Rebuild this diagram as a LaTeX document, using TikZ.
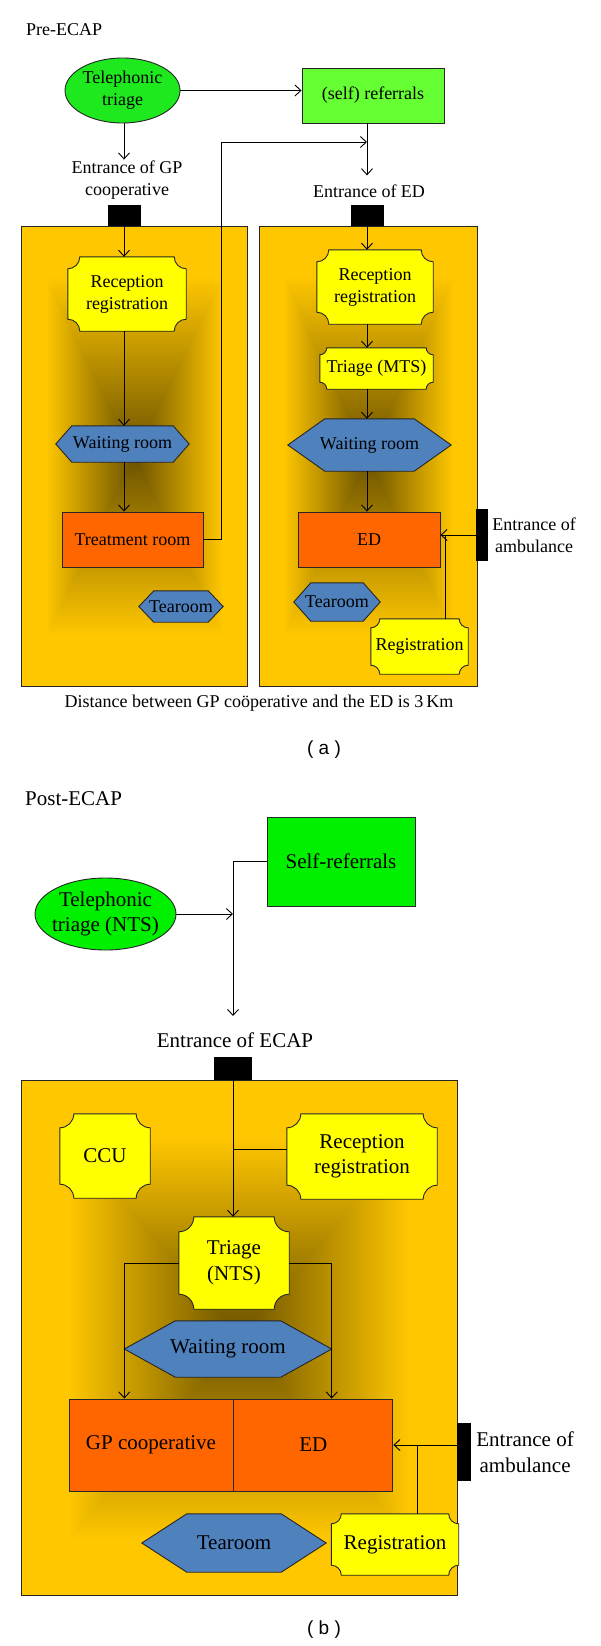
\documentclass[tikz,border=0pt]{standalone}
\usepackage{fontspec}
\setmainfont{Liberation Serif}
\newfontfamily\panelfont{Liberation Sans}
\usepackage{tikz}
\usetikzlibrary{shapes,arrows.meta,positioning,backgrounds,calc}
\definecolor{call-green}{RGB}{30,232,30}
\definecolor{lime-green}{RGB}{102,255,51}
\definecolor{self-green}{RGB}{0,240,0}
\definecolor{desk-yellow}{RGB}{255,255,0}
\definecolor{hall-blue}{RGB}{79,129,189}
\definecolor{care-orange}{RGB}{255,102,0}

\pgfdeclarelayer{frames}
\pgfsetlayers{background,frames,main}

% rectangular glow, dark in the middle of a room
\pgfdeclarefunctionalshading{roomglow}{\pgfpoint{0bp}{0bp}}{\pgfpoint{100bp}{100bp}}{}{
  50 sub abs 25 div exch 50 sub abs 25 div
  2 copy lt {exch} if pop
  0.78 div dup 1 gt {pop 1} if
  dup 0.58 mul 0.42 add exch
  dup 0.46 mul 0.32 add exch
  pop 0
}

% plaque outline behind a node: node, corner radius
\newcommand{\plaque}[2]{%
  \draw[plaqueline] ($(#1.north west)+(#2,0)$) -- ($(#1.north east)+(-#2,0)$)
    arc[start angle=180, end angle=270, radius=#2pt] -- ($(#1.south east)+(0,#2)$)
    arc[start angle=90, end angle=180, radius=#2pt] -- ($(#1.south west)+(#2,0)$)
    arc[start angle=0, end angle=90, radius=#2pt] -- ($(#1.north west)+(0,-#2)$)
    arc[start angle=270, end angle=360, radius=#2pt] -- cycle;}

% hexagon outline behind a node: node, tip inset
\newcommand{\hexa}[2]{%
  \draw[hexline] (#1.west) -- ($(#1.north west)+(#2,0)$) -- ($(#1.north east)+(-#2,0)$)
    -- (#1.east) -- ($(#1.south east)+(-#2,0)$) -- ($(#1.south west)+(#2,0)$) -- cycle;}

\begin{document}
\begin{tikzpicture}[
    x=1pt, y=1pt,
    font=\fontsize{18}{22}\selectfont,
    room/.style={draw=black!85, line width=0.9pt, shade, shading=roomglow, inner sep=0pt},
    door/.style={fill=black, inner sep=0pt},
    call/.style={ellipse, draw=black!85, line width=0.9pt, fill=call-green, align=center, inner sep=0pt},
    referral/.style={rectangle, draw=black!85, line width=0.9pt, align=center, inner sep=0pt},
    desk/.style={inner sep=0pt, align=center},
    hall/.style={inner sep=0pt},
    care/.style={rectangle, draw=black!85, line width=0.9pt, fill=care-orange, inner sep=0pt, align=center},
    sign/.style={align=center, inner sep=1pt},
    plaqueline/.style={draw=black!85, line width=0.9pt, fill=desk-yellow},
    hexline/.style={draw=black!85, line width=0.9pt, fill=hall-blue},
    arrow/.style={-{Straight Barb[length=6pt,width=11pt]}, line width=0.9pt},
    link/.style={line width=0.9pt}
]
\useasboundingbox (0,0) rectangle (600,-1646);

% Rooms
\begin{scope}[on background layer]
\fill[white] (0,0) rectangle (600,-1646);
\node[room, minimum width=226pt, minimum height=460pt] (gpRoom) at (134,-456) {};
\node[room, minimum width=218pt, minimum height=460pt] (edRoom) at (368,-456) {};
\node[room, minimum width=436pt, minimum height=515pt] (ecapRoom) at (239,-1337.5) {};
\end{scope}

% Pre-ECAP
\node[anchor=base west, inner sep=0pt] (preA) at (26,-35.5) {Pre-ECAP};
\node[call, minimum width=115pt, minimum height=65pt] (teleA) at (122.5,-90.5) {Telephonic\\triage};
\node[referral, fill=lime-green, minimum width=142pt, minimum height=55pt] (selfA) at (373,-95.5) {(self) referrals};
\node[sign] (entGP) at (127,-180) {Entrance of GP\\cooperative};
\node[door, minimum width=33pt, minimum height=21pt] (doorGP) at (124,-215.5) {};
\node[sign] (entED) at (369,-191) {Entrance of ED};
\node[door, minimum width=33pt, minimum height=21pt] (doorED) at (367,-215.5) {};

% GP cooperative
\node[desk, minimum width=118pt, minimum height=74pt] (recA1) at (127,-294) {Reception\\registration};
\node[hall, minimum width=133pt, minimum height=36pt] (waitA1) at (122.5,-444) {Waiting room};
\node[care, minimum width=141pt, minimum height=55pt] (treatA) at (132.5,-539.5) {Treatment room};
\node[hall, minimum width=84pt, minimum height=31pt] (teaA1) at (181,-606.5) {Tearoom};

% ED
\node[desk, minimum width=116pt, minimum height=74pt] (recA2) at (375,-287) {Reception\\registration};
\node[desk, minimum width=113pt, minimum height=41pt] (triA) at (376.5,-368.5) {Triage (MTS)};
\node[hall, minimum width=163pt, minimum height=52pt] (waitA2) at (369.5,-445) {Waiting room};
\node[care, minimum width=142pt, minimum height=55pt] (edA) at (369,-539.5) {ED};
\node[hall, minimum width=86pt, minimum height=38pt] (teaA2) at (337,-602) {Tearoom};
\node[desk, minimum width=97pt, minimum height=55pt] (regA) at (419.5,-646.5) {Registration};
\node[door, minimum width=12pt, minimum height=52pt] (ambA) at (482,-535) {};
\node[sign, right=3pt of ambA] (ambtxtA) {Entrance of\\ambulance};

\node (distA) at (259,-703) {Distance between GP coöperative and the ED is 3\,Km};
\node[font=\panelfont\fontsize{19}{22}\selectfont] (panelA) at (324,-750) {( a )};

% Post-ECAP
\begin{scope}[font=\fontsize{21}{25.5}\selectfont]
\node[anchor=base west, inner sep=0pt] (preB) at (25,-805) {Post-ECAP};
\node[referral, fill=self-green, minimum width=148pt, minimum height=89pt] (selfB) at (341,-861.5) {Self-referrals};
\node[call, fill=self-green, inner sep=-8pt, minimum width=141pt, minimum height=72pt] (teleB) at (105.5,-914) {Telephonic\\triage (NTS)};
\node[sign] (entB) at (235,-1040) {Entrance of ECAP};
\node[door, minimum width=38pt, minimum height=23pt] (doorB) at (233,-1068.5) {};

\node[desk, minimum width=90pt, minimum height=84pt] (ccuB) at (105,-1156) {CCU};
\node[desk, minimum width=150pt, minimum height=85pt] (recB) at (362,-1156.5) {Reception\\registration};
\node[desk, minimum width=110pt, minimum height=92pt] (triB) at (234,-1263) {Triage\\(NTS)};
\node[hall, minimum width=207pt, minimum height=56pt] (waitB) at (228,-1349) {Waiting room};
\node[care, minimum width=164pt, minimum height=92pt] (gpB) at (151,-1445) {GP cooperative};
\node[care, minimum width=159pt, minimum height=92pt, right=0pt of gpB] (edB) {ED};
\node[hall, minimum width=184pt, minimum height=58pt] (teaB) at (234,-1543) {Tearoom};
\node[desk, minimum width=127pt, minimum height=61pt] (regB) at (395,-1544.5) {Registration};
\node[door, minimum width=14pt, minimum height=58pt] (ambB) at (464,-1452) {};
\node[sign, right=4pt of ambB] (ambtxtB) {Entrance of\\ambulance};
\end{scope}
\node[font=\panelfont\fontsize{19}{22}\selectfont] (panelB) at (324,-1630) {( b )};

% Shapes behind the texts
\begin{pgfonlayer}{frames}
\foreach \n/\rad in {recA1/12, recA2/12, triA/7, regA/9, ccuB/14, recB/14, triB/15, regB/10}
  {\plaque{\n}{\rad}}
\foreach \n/\inset in {waitA1/16, waitA2/37, teaA1/15, teaA2/17, waitB/51, teaB/45}
  {\hexa{\n}{\inset}}
\end{pgfonlayer}

% Arrows, Pre-ECAP
\draw[arrow] (teleA.east) -- (teleA.east -| selfA.west);
\draw[arrow] (teleA.south -| doorGP) -- (entGP.north -| doorGP);
\draw[arrow] (selfA.south -| doorED) -- ($(entED.north -| doorED)+(0,8)$);
\draw[arrow] (doorGP.south) -- (recA1.north -| doorGP);
\draw[arrow] (recA1.south -| doorGP) -- (waitA1.north -| doorGP);
\draw[arrow] (waitA1.south -| doorGP) -- (treatA.north -| doorGP);
\coordinate (joinA) at (367,-142);
\draw[arrow] (treatA.east) -- ++(18,0) |- (joinA);
\draw[arrow] (doorED.south) -- (recA2.north -| doorED);
\draw[arrow] (recA2.south -| doorED) -- (triA.north -| doorED);
\draw[arrow] (triA.south -| doorED) -- (waitA2.north -| doorED);
\draw[arrow] (waitA2.south -| doorED) -- (edA.north -| doorED);
\draw[arrow] (ambA.west) -- (ambA.west -| edA.east);
\coordinate (ambjoinA) at (445,-535);
\draw[link] (regA.north -| ambjoinA) -- (ambjoinA);

% Arrows, Post-ECAP
\coordinate (dropB) at (233,-1016);
\draw[arrow] (teleB.east) -- (teleB.east -| dropB);
\draw[arrow] (selfB.west) -| (dropB);
\draw[arrow] (doorB.south) -- (triB.north -| doorB);
\coordinate (recBin) at ($(recB.west)+(0,7)$);
\draw[link] (recBin) -- (recBin -| doorB);
\draw[arrow] (triB.west) -| (waitB.west) -- (waitB.west |- gpB.north);
\draw[arrow] (triB.east) -| (waitB.east) -- (waitB.east |- edB.north);
\draw[arrow] (ambB.west |- edB.east) -- (edB.east);
\coordinate (ambjoinB) at (417,-1445);
\draw[link] (regB.north -| ambjoinB) -- (ambjoinB);

\end{tikzpicture}
\end{document}
